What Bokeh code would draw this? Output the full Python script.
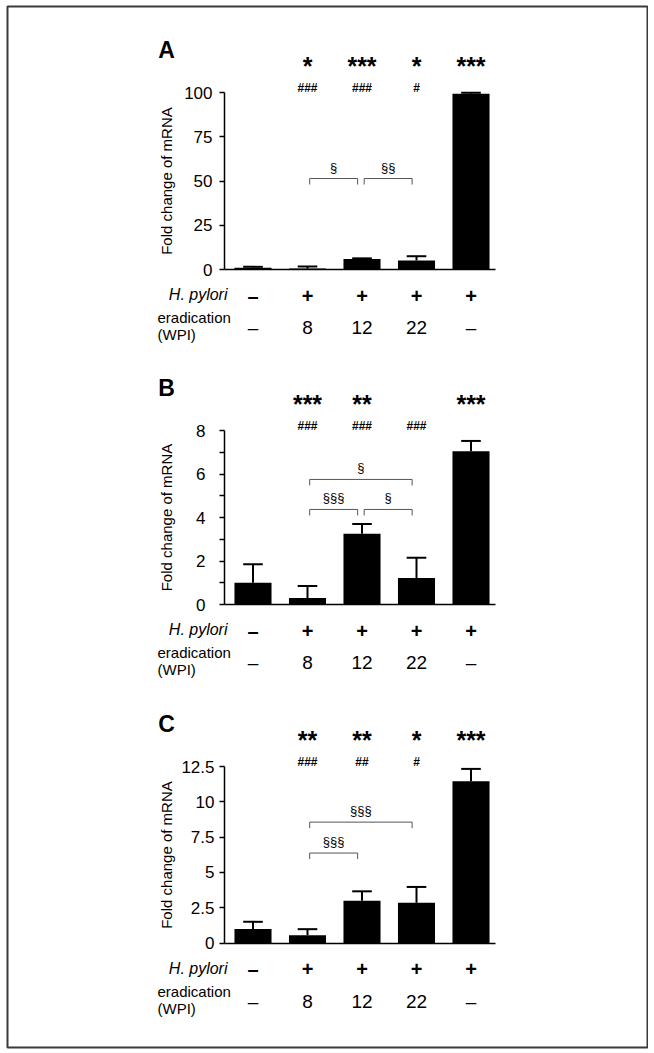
from bokeh.plotting import figure
from bokeh.models import Range1d, LinearAxis, FixedTicker
from bokeh.core.properties import value
from bokeh.embed import file_html
from bokeh.resources import INLINE

# ---------------- data ----------------
groups = [1, 2, 3, 4, 5]
hp_row = ["\u2013", "+", "+", "+", "+"]
erad_row = ["\u2013", "8", "12", "22", "\u2013"]

a_mean = [1.0, 0.5, 5.9, 5.1, 99.3]
a_err = [0.5, 1.2, 0.4, 2.4, 0.5]
a_stars = ["", "*", "***", "*", "***"]
a_hash = ["", "###", "###", "#", ""]
a_brackets = [(2, 3, "\u00a7", 51.4), (3, 4, "\u00a7\u00a7", 51.4)]
a_ticks = [0, 25, 50, 75, 100]
a_labels = {}

b_mean = [1.0, 0.3, 3.25, 1.22, 7.05]
b_err = [0.85, 0.55, 0.45, 0.93, 0.47]
b_stars = ["", "***", "**", "", "***"]
b_hash = ["", "###", "###", "###", ""]
b_brackets = [(2, 4, "\u00a7", 5.75), (2, 3, "\u00a7\u00a7\u00a7", 4.37), (3, 4, "\u00a7", 4.37)]
b_ticks = [0, 1, 2, 3, 4, 5, 6, 7, 8]
b_labels = {1: "", 3: "", 5: "", 7: ""}

c_mean = [1.0, 0.55, 3.0, 2.85, 11.45]
c_err = [0.5, 0.43, 0.66, 1.12, 0.88]
c_stars = ["", "**", "**", "*", "***"]
c_hash = ["", "###", "##", "#", ""]
c_brackets = [(2, 4, "\u00a7\u00a7\u00a7", 8.56), (2, 3, "\u00a7\u00a7\u00a7", 6.37)]
c_ticks = [0, 2.5, 5, 7.5, 10, 12.5]
c_labels = {0: "0", 5: "5", 10: "10"}

# ---------------- layout (page pixels) ----------------
W, H = 648, 1049
FL, FT, FR, FB = 7, 6, 647, 1047   # frame edges (the outer border)
XC1, XSTEP = 252.5, 54.5
FONT = "Liberation Sans"


def u(px):
    return 1 + (px - XC1) / XSTEP


p = figure(width=W, height=H, output_backend="svg", toolbar_location=None, tools="",
           x_axis_location=None, y_axis_location=None,
           x_range=Range1d(u(FL), u(FR)), y_range=Range1d(0, 1),
           min_border_left=FL, min_border_right=W - FR,
           min_border_top=FT, min_border_bottom=H - FB)
p.grid.visible = False
p.outline_line_color = "#3a3a3a"
p.outline_line_width = 2
p.background_fill_color = "white"
p.border_fill_color = "white"

AXIS_X = u(224)
AXIS_END = u(495)


def add_panel(name, letter, means, errs, stars, hashes, brackets, ticks, overrides,
              zero_px, top_px, lab_standoff, ax_standoff):
    T = ticks[-1]
    k = T / (zero_px - top_px)
    p.extra_y_ranges[name] = Range1d(-(FB - zero_px) * k, T + (top_px - FT) * k)

    def v(py):
        return (zero_px - py) * k

    # bars and one-sided error bars
    p.vbar(x=groups, top=means, bottom=0, width=0.68, fill_color="black",
           line_color=None, y_range_name=name)
    uppers = [m + e for m, e in zip(means, errs)]
    p.segment(x0=groups, y0=means, x1=groups, y1=uppers, line_color="black",
              line_width=2, y_range_name=name)
    p.segment(x0=[g - 0.18 for g in groups], y0=uppers, x1=[g + 0.18 for g in groups],
              y1=uppers, line_color="black", line_width=2, y_range_name=name)

    # axes
    yax = LinearAxis(y_range_name=name, fixed_location=AXIS_X, bounds=(0, T),
                     ticker=FixedTicker(ticks=ticks), major_label_overrides=overrides,
                     axis_label="Fold change of mRNA")
    yax.axis_line_color = "black"
    yax.axis_line_width = 1.5
    yax.major_tick_line_color = "black"
    yax.major_tick_line_width = 1.5
    yax.major_tick_out = 5
    yax.major_tick_in = 0
    yax.minor_tick_line_color = None
    yax.major_label_text_font = FONT
    yax.major_label_text_font_size = "17px"
    yax.major_label_text_color = "black"
    yax.major_label_standoff = lab_standoff
    yax.axis_label_text_font = FONT
    yax.axis_label_text_font_size = "15px"
    yax.axis_label_text_font_style = "normal"
    yax.axis_label_text_color = "black"
    yax.axis_label_standoff = ax_standoff
    p.add_layout(yax, "left")

    xax = LinearAxis(y_range_name=name, fixed_location=0, bounds=(AXIS_X, AXIS_END),
                     ticker=FixedTicker(ticks=[]))
    xax.axis_line_color = "black"
    xax.axis_line_width = 1.5
    xax.major_tick_line_color = None
    xax.minor_tick_line_color = None
    xax.major_label_text_font_size = "0px"
    p.add_layout(xax, "below")

    common = dict(text_font=value(FONT), text_baseline="alphabetic",
                  text_color="black", y_range_name=name)

    # panel letter
    p.text(x=[u(166)], y=[v(top_px - 43)], text=[letter], text_font_size="23px",
           text_font_style="bold", text_align="center", **common)

    # significance marks
    p.text(x=groups, y=[v(top_px - 27)] * 5, text=stars, text_font_size="25px",
           text_font_style="bold", text_align="center", **common)
    p.text(x=groups, y=[v(top_px - 5)] * 5, text=hashes, text_font_size="12px",
           text_font_style="bold", text_align="center", **common)

    # brackets
    tick = 6 * k
    xs, ys, lx, ly, lt = [], [], [], [], []
    for i, j, lab, lvl in brackets:
        x0, x1 = i + 0.04, j - 0.08
        xs.append([x0, x0, x1, x1])
        ys.append([lvl - tick, lvl, lvl, lvl - tick])
        lx.append((x0 + x1) / 2)
        ly.append(lvl + 11.5 * k)
        lt.append(lab)
    p.multi_line(xs=xs, ys=ys, line_color="#555555", line_width=1, y_range_name=name)
    p.text(x=lx, y=ly, text=lt, text_font_size="13px", text_align="center", **common)

    # condition rows
    p.text(x=[u(227)], y=[v(zero_px + 25)], text=["H. pylori"], text_font_size="16px",
           text_font_style="italic", text_align="right", **common)
    p.text(x=[u(157)], y=[v(zero_px + 48)], text=["eradication"], text_font_size="15px",
           text_align="left", **common)
    p.text(x=[u(157)], y=[v(zero_px + 65)], text=["(WPI)"], text_font_size="15px",
           text_align="left", **common)
    p.text(x=groups, y=[v(zero_px + 26)] * 5, text=hp_row, text_font_size="20px",
           text_font_style="bold", text_align="center", **common)
    p.text(x=groups, y=[v(zero_px + 58)] * 5, text=erad_row, text_font_size="19px",
           text_align="center", **common)


add_panel("A", "A", a_mean, a_err, a_stars, a_hash, a_brackets, a_ticks, a_labels,
          269, 92, 7, 6)
add_panel("B", "B", b_mean, b_err, b_stars, b_hash, b_brackets, b_ticks, b_labels,
          604, 430, 14, 18)
add_panel("C", "C", c_mean, c_err, c_stars, c_hash, c_brackets, c_ticks, c_labels,
          942.5, 766, 5, 3)

open("out.html", "w").write(file_html(p, INLINE))
